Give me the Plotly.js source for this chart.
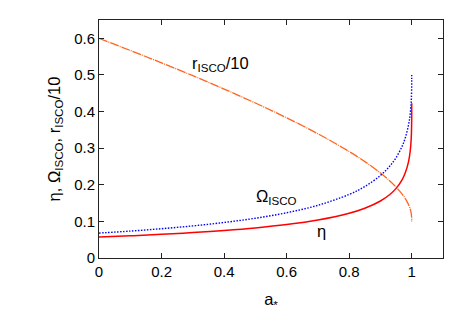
<!DOCTYPE html>
<html>
<head>
<meta charset="utf-8">
<script src="https://cdn.plot.ly/plotly-3.0.1.min.js"></script>
<style>html,body{margin:0;padding:0;background:#fff;}#chart{width:467px;height:327px;}</style>
</head>
<body>
<div id="chart"></div>
<script>
// spin parameter a*
const spin = [0, 0.1, 0.2, 0.3, 0.4, 0.5, 0.6, 0.7, 0.8, 0.85, 0.9, 0.93, 0.95, 0.97, 0.98, 0.99, 0.995, 0.998, 0.999, 0.9999, 0.99999, 1];
// efficiency eta
const eta = [0.0572, 0.0606, 0.0646, 0.0694, 0.0751, 0.0821, 0.0912, 0.1036, 0.1221, 0.1358, 0.1557, 0.1734, 0.1901, 0.2149, 0.2339, 0.2640, 0.2909, 0.3210, 0.3398, 0.3820, 0.4033, 0.4227];
// Omega_ISCO
const omega = [0.0680, 0.0735, 0.0800, 0.0876, 0.0970, 0.1086, 0.1236, 0.1439, 0.1737, 0.1952, 0.2254, 0.2511, 0.2742, 0.3067, 0.3300, 0.3644, 0.3925, 0.4213, 0.4379, 0.4717, 0.4870, 0.5000];
// r_ISCO / 10
const rIsco10 = [0.6000, 0.5669, 0.5329, 0.4979, 0.4614, 0.4233, 0.3829, 0.3393, 0.2907, 0.2633, 0.2321, 0.2104, 0.1937, 0.1738, 0.1614, 0.1455, 0.1341, 0.1237, 0.1182, 0.1079, 0.1035, 0.1000];

const xTicks = [0, 0.2, 0.4, 0.6, 0.8, 1];
const xTickText = ['0', '0.2', '0.4', '0.6', '0.8', '1'];
const yTicks = [0, 0.1, 0.2, 0.3, 0.4, 0.5, 0.6];
const yTickText = ['0', '0.1', '0.2', '0.3', '0.4', '0.5', '0.6'];

const font = {family: 'Liberation Sans, Arial, sans-serif', size: 15, color: '#000'};
const labelFont = {family: 'Liberation Sans, Arial, sans-serif', size: 16.5, color: '#000'};

const traces = [
  {x: spin, y: rIsco10, mode: 'lines', line: {color: 'rgb(255,100,30)', width: 1.3, dash: '9px,1px,1px,1px', shape: 'spline'}, hoverinfo: 'skip'},
  {x: spin, y: omega, mode: 'lines', line: {color: 'rgb(0,0,255)', width: 1.4, dash: '1.5px,1.5px', shape: 'spline'}, hoverinfo: 'skip'},
  {x: spin, y: eta, mode: 'lines', line: {color: 'rgb(255,0,0)', width: 1.5, shape: 'spline'}, hoverinfo: 'skip'}
];

const axisCommon = {
  showgrid: false, zeroline: false, showline: true, linecolor: '#222', linewidth: 1,
  mirror: 'ticks', ticks: 'inside', ticklen: 5, tickcolor: '#222', tickfont: font
};

const layout = {
  width: 467, height: 327,
  margin: {l: 99, r: 24, t: 20, b: 69},
  paper_bgcolor: '#fff', plot_bgcolor: '#fff',
  showlegend: false,
  font: font,
  xaxis: Object.assign({}, axisCommon, {range: [0, 1.1], tickvals: xTicks, ticktext: xTickText,
    title: {text: 'a<sub>*</sub>', font: labelFont, standoff: 14}}),
  yaxis: Object.assign({}, axisCommon, {range: [0, 0.65], tickvals: yTicks, ticktext: yTickText,
    title: {text: 'η, Ω<sub>ISCO</sub>, r<sub>ISCO</sub>/10', font: labelFont, standoff: 9}}),
  annotations: [
    {x: 0.39, y: 0.53, xref: 'x', yref: 'y', text: 'r<sub>ISCO</sub>/10', showarrow: false, font: labelFont},
    {x: 0.566, y: 0.166, xref: 'x', yref: 'y', text: 'Ω<sub>ISCO</sub>', showarrow: false, font: labelFont},
    {x: 0.713, y: 0.074, xref: 'x', yref: 'y', text: 'η', showarrow: false, font: labelFont}
  ]
};

Plotly.newPlot('chart', traces, layout, {staticPlot: true, displayModeBar: false});
</script>
</body>
</html>
